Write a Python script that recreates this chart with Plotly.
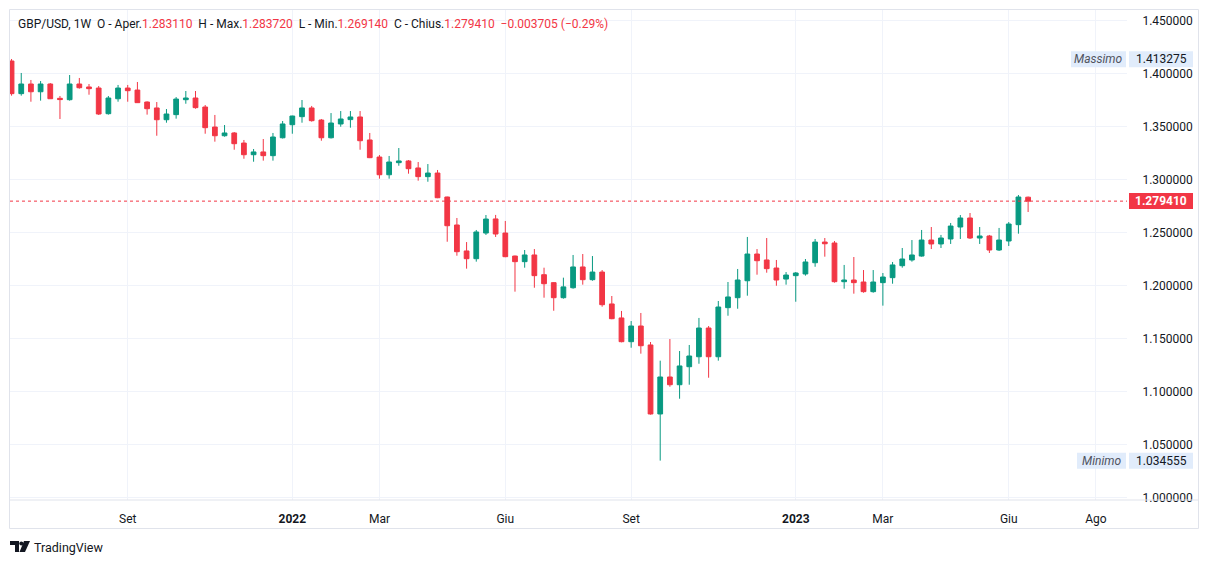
import pandas as pd
import plotly.graph_objects as go

# weekly bars GBP/USD, first bar week of 2021-06-14
first_week = "2021-06-14"

opens = [1.4116, 1.3808, 1.3899, 1.3826, 1.3899, 1.3764, 1.3751, 1.3899, 1.3871, 1.3861,
         1.3619, 1.3760, 1.3861, 1.3842, 1.3729, 1.3673, 1.3562, 1.3610, 1.3751, 1.3767,
         1.3682, 1.3493, 1.3411, 1.3437, 1.3342, 1.3232, 1.3258, 1.3223, 1.3392, 1.3515,
         1.3591, 1.3673, 1.3559, 1.3392, 1.3522, 1.3563, 1.3588, 1.3371, 1.3210, 1.3043,
         1.3157, 1.3173, 1.3107, 1.3025, 1.3059, 1.2833, 1.2569, 1.2324, 1.2251, 1.2493,
         1.2626, 1.2493, 1.2276, 1.2223, 1.2286, 1.2100, 1.2025, 1.1883, 1.1977, 1.2173,
         1.2053, 1.2125, 1.1824, 1.1692, 1.1468, 1.1616, 1.1437, 1.0786, 1.1135, 1.1062,
         1.1232, 1.1326, 1.1597, 1.1326, 1.1789, 1.1883, 1.2043, 1.2295, 1.2239, 1.2163,
         1.2059, 1.2091, 1.2107, 1.2213, 1.2408, 1.2399, 1.2034, 1.2050, 1.2031, 1.1940,
         1.2025, 1.2072, 1.2185, 1.2239, 1.2276, 1.2427, 1.2390, 1.2437, 1.2550, 1.2635,
         1.2446, 1.2465, 1.2333, 1.2418, 1.2572, 1.28311]
highs = [1.4135, 1.4003, 1.3937, 1.3927, 1.3908, 1.3786, 1.3984, 1.3956, 1.3899, 1.3880,
         1.3786, 1.3890, 1.3890, 1.3918, 1.3735, 1.3729, 1.3663, 1.3776, 1.3833, 1.3833,
         1.3701, 1.3607, 1.3512, 1.3446, 1.3371, 1.3286, 1.3380, 1.3437, 1.3550, 1.3600,
         1.3748, 1.3692, 1.3569, 1.3625, 1.3644, 1.3644, 1.3644, 1.3437, 1.3229, 1.3220,
         1.3295, 1.3182, 1.3163, 1.3144, 1.3088, 1.2836, 1.2635, 1.2408, 1.2522, 1.2663,
         1.2664, 1.2607, 1.2280, 1.2333, 1.2342, 1.2166, 1.2030, 1.2072, 1.2286, 1.2295,
         1.2276, 1.2144, 1.1899, 1.1758, 1.1663, 1.1739, 1.1465, 1.1289, 1.1493, 1.1380,
         1.1437, 1.1692, 1.1616, 1.1852, 1.2031, 1.2154, 1.2456, 1.2342, 1.2446, 1.2239,
         1.2125, 1.2125, 1.2248, 1.2437, 1.2446, 1.2418, 1.2192, 1.2267, 1.2144, 1.2144,
         1.2116, 1.2220, 1.2352, 1.2427, 1.2522, 1.2550, 1.2475, 1.2588, 1.2663, 1.2682,
         1.2550, 1.2475, 1.2541, 1.2597, 1.2852, 1.28372]
lows = [1.3789, 1.3789, 1.3732, 1.3742, 1.3760, 1.3569, 1.3742, 1.3855, 1.3798, 1.3607,
        1.3610, 1.3732, 1.3732, 1.3720, 1.3610, 1.3411, 1.3534, 1.3572, 1.3713, 1.3666,
        1.3430, 1.3355, 1.3402, 1.3279, 1.3194, 1.3166, 1.3176, 1.3176, 1.3385, 1.3430,
        1.3534, 1.3544, 1.3364, 1.3385, 1.3496, 1.3487, 1.3279, 1.3200, 1.3006, 1.3006,
        1.3128, 1.3053, 1.2987, 1.2977, 1.2822, 1.2411, 1.2279, 1.2157, 1.2223, 1.2475,
        1.2456, 1.2265, 1.1940, 1.2166, 1.1977, 1.1883, 1.1760, 1.1874, 1.1968, 1.2006,
        1.2043, 1.1798, 1.1680, 1.1462, 1.1411, 1.1355, 1.0780, 1.0346, 1.1043, 1.0930,
        1.1062, 1.1260, 1.1128, 1.1289, 1.1713, 1.1779, 1.1902, 1.2100, 1.2119, 1.1996,
        1.2006, 1.1845, 1.2091, 1.2175, 1.2270, 1.2025, 1.1968, 1.1921, 1.1930, 1.1930,
        1.1808, 1.2015, 1.2166, 1.2223, 1.2270, 1.2342, 1.2352, 1.2390, 1.2437, 1.2437,
        1.2390, 1.2305, 1.2324, 1.2371, 1.2487, 1.26914]
closes = [1.3808, 1.3899, 1.3826, 1.3899, 1.3760, 1.3752, 1.3899, 1.3864, 1.3855, 1.3616,
          1.3767, 1.3861, 1.3836, 1.3723, 1.3666, 1.3562, 1.3616, 1.3757, 1.3767, 1.3676,
          1.3487, 1.3411, 1.3437, 1.3336, 1.3232, 1.3258, 1.3223, 1.3399, 1.3522, 1.3597,
          1.3673, 1.3553, 1.3392, 1.3531, 1.3569, 1.3588, 1.3364, 1.3204, 1.3043, 1.3163,
          1.3173, 1.3100, 1.3025, 1.3059, 1.2826, 1.2562, 1.2317, 1.2251, 1.2503, 1.2625,
          1.2484, 1.2270, 1.2223, 1.2286, 1.2091, 1.2015, 1.1883, 1.1985, 1.2173, 1.2053,
          1.2125, 1.1817, 1.1685, 1.1468, 1.1616, 1.1430, 1.0786, 1.1135, 1.1062, 1.1239,
          1.1333, 1.1597, 1.1326, 1.1795, 1.1890, 1.2050, 1.2295, 1.2232, 1.2157, 1.2050,
          1.2097, 1.2116, 1.2220, 1.2408, 1.2392, 1.2034, 1.2050, 1.2025, 1.1940, 1.2031,
          1.2078, 1.2192, 1.2248, 1.2286, 1.2427, 1.2390, 1.2446, 1.2559, 1.2635, 1.2446,
          1.2465, 1.2333, 1.2427, 1.2578, 1.2833, 1.27941]

weeks = pd.date_range(first_week, periods=len(closes), freq="W-MON")

tick_dates = ["2021-09-06", "2022-01-03", "2022-03-07", "2022-06-06", "2022-09-05",
              "2023-01-02", "2023-03-06", "2023-06-05", "2023-08-07"]
tick_labels = ["Set", "<b>2022</b>", "Mar", "Giu", "Set", "<b>2023</b>", "Mar", "Giu", "Ago"]

last_close = closes[-1]
change = -0.003705
change_pct = -0.29
max_high = 1.413275
min_low = 1.034555

GREEN = "#089981"
RED = "#F23645"
TEXT = "#131722"
GRID = "#F0F3FA"
BORDER = "#E0E3EB"
LABEL_BG = "#E1ECFB"

# the page body has an 8px margin, so the figure sits at (8, 8) in the window
OFF = 8
W, H = 1209 - 2 * OFF, 564 - 2 * OFF
# plot area edges in window pixels
L, R, T, B = 10, 1127, 10, 500


def px(x):
    return (x - L) / (R - L)


def py(y):
    return (B - y) / (B - T)


fig = go.Figure()
fig.add_trace(go.Candlestick(
    x=weeks, open=opens, high=highs, low=lows, close=closes,
    increasing=dict(line=dict(color=GREEN, width=1), fillcolor=GREEN),
    decreasing=dict(line=dict(color=RED, width=1), fillcolor=RED),
    whiskerwidth=0, hoverinfo="skip", showlegend=False,
))

shapes = []
# frame
shapes.append(dict(type="rect", xref="paper", yref="paper", x0=px(9.5), x1=px(1198.5),
                   y0=py(528.5), y1=py(9.5), line=dict(color=BORDER, width=1), layer="below"))
shapes.append(dict(type="line", xref="paper", yref="paper", x0=px(9.5), x1=px(1198.5),
                   y0=0, y1=0, line=dict(color=BORDER, width=1)))
# last price line
shapes.append(dict(type="line", xref="paper", yref="y", x0=0, x1=1, y0=last_close, y1=last_close,
                   line=dict(color=RED, width=1, dash="dot")))
# price label
shapes.append(dict(type="rect", xref="paper", yref="paper", x0=px(1129), x1=px(1193),
                   y0=py(209), y1=py(193), fillcolor=RED, line=dict(width=0)))

annotations = []
for name, val, left in [("Massimo", max_high, 1071), ("Minimo", min_low, 1077)]:
    yc = 73.3 + (1.40 - val) * 1060
    shapes.append(dict(type="rect", xref="paper", yref="paper", x0=px(left), x1=px(1126),
                       y0=py(yc + 8), y1=py(yc - 8), fillcolor=LABEL_BG, line=dict(width=0)))
    shapes.append(dict(type="rect", xref="paper", yref="paper", x0=px(1129), x1=px(1193),
                       y0=py(yc + 8), y1=py(yc - 8), fillcolor=LABEL_BG, line=dict(width=0)))
    annotations.append(dict(xref="paper", yref="y", x=px((left + 1126) / 2), y=val, text=f"<i>{name}</i>",
                            showarrow=False, font=dict(size=12, color="#50535E"),
                            xanchor="center", yanchor="middle"))
    annotations.append(dict(xref="paper", yref="y", x=px(1161), y=val, text=f"{val:.6f}",
                            showarrow=False, font=dict(size=12, color=TEXT),
                            xanchor="center", yanchor="middle"))

annotations.append(dict(xref="paper", yref="y", x=px(1161), y=last_close, text=f"<b>{last_close:.6f}</b>",
                        showarrow=False, font=dict(size=12, color="white"),
                        xanchor="center", yanchor="middle"))

sp = "\u00a0\u00a0"
red = lambda s: f"<span style='color:{RED}'>{s}</span>"
header = ("GBP/USD, 1W" + sp + "O - Aper." + red(f"{opens[-1]:.6f}") + sp +
          "H - Max." + red(f"{highs[-1]:.6f}") + sp +
          "L - Min." + red(f"{lows[-1]:.6f}") + sp +
          "C - Chius." + red(f"{closes[-1]:.6f}") + sp +
          red(f"\u2212{abs(change):.6f} (\u2212{abs(change_pct):.2f}%)"))
annotations.append(dict(xref="paper", yref="paper", x=px(16), y=py(24), text=header,
                        showarrow=False, font=dict(size=12, color=TEXT),
                        xanchor="left", yanchor="middle"))

# TradingView logo
logo_paths = [
    [(10, 541), (19, 541), (19, 552), (15, 552), (15, 545), (10, 545)],
    [(24, 541), (30, 541), (25, 552), (19.5, 552)],
]
for pts in logo_paths:
    path = "M " + " L ".join(f"{px(a):.5f},{py(b):.5f}" for a, b in pts) + " Z"
    shapes.append(dict(type="path", xref="paper", yref="paper", path=path,
                       fillcolor=TEXT, line=dict(width=0)))
shapes.append(dict(type="circle", xref="paper", yref="paper", x0=px(19.3), x1=px(23.3),
                   y0=py(545.5), y1=py(541.5), fillcolor=TEXT, line=dict(width=0)))
annotations.append(dict(xref="paper", yref="paper", x=px(32), y=py(547), text="TradingView",
                        showarrow=False, font=dict(size=12.5, color=TEXT),
                        xanchor="left", yanchor="middle"))

fig.update_layout(
    width=W, height=H,
    margin=dict(l=L - OFF, r=(W + OFF) - R, t=T - OFF, b=(H + OFF) - B),
    paper_bgcolor="white", plot_bgcolor="white",
    font=dict(family="Roboto, sans-serif", color=TEXT, size=12),
    shapes=shapes, annotations=annotations,
    xaxis=dict(type="date", range=["2021-06-12 21:00", "2023-08-29 12:00"],
               tickvals=tick_dates, ticktext=tick_labels,
               showgrid=True, gridcolor=GRID, gridwidth=1,
               ticks="outside", ticklen=0, ticklabelstandoff=8,
               showline=False, zeroline=False,
               rangeslider=dict(visible=False), fixedrange=True),
    yaxis=dict(side="right", range=[0.99745, 1.45972], tick0=1.0, dtick=0.05,
               tickformat=".6f", showgrid=True, gridcolor=GRID, gridwidth=1,
               ticks="outside", ticklen=0, ticklabelstandoff=12,
               showline=False, zeroline=False, fixedrange=True),
)

fig.write_html("out.html")
